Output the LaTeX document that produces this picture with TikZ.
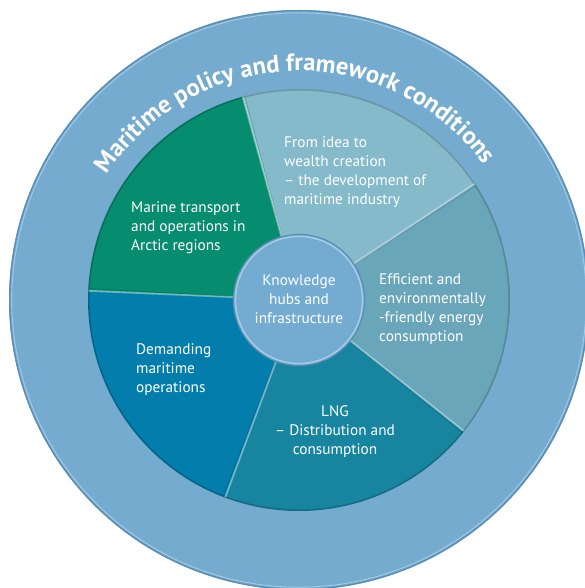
\documentclass[tikz,border=0pt]{standalone}
\usepackage{fontspec}
\setmainfont{PT Sans}
\usetikzlibrary{decorations.text}
\definecolor{ringc}{HTML}{75ABCF}
\definecolor{ringdark}{HTML}{5A8DB3}
\definecolor{ringlight}{HTML}{A3CBE6}
\definecolor{secidea}{HTML}{84BACA}
\definecolor{secmarine}{HTML}{068C6F}
\definecolor{secdemand}{HTML}{037DAB}
\definecolor{seclng}{HTML}{1785A0}
\definecolor{seceff}{HTML}{6AA6BA}
\definecolor{hubc}{HTML}{74ABD0}
\tikzset{
  lbl/.style={inner sep=0pt, text=white, font=\fontsize{15.3}{19.2}\selectfont},
  sepline/.style={draw=white, draw opacity=0.4, line width=1.8pt},
}
\begin{document}
\begin{tikzpicture}[x=1pt,y=1pt]
\useasboundingbox (0,0) rectangle (585,588);
\clip (0,0) rectangle (585,588);
\coordinate (C) at (299,288);
% outer ring
\fill[ringc] (C) circle[radius=290];
\draw[ringdark, line width=1.3pt] (C) circle[radius=289.3];
\draw[ringlight, line width=0.9pt] (C) circle[radius=287.2];
% sectors
\fill[secidea] (C) -- ++(33.5:211) arc[start angle=33.5, end angle=105.5, radius=211] -- cycle;
\fill[secmarine] (C) -- ++(105.5:211) arc[start angle=105.5, end angle=177.5, radius=211] -- cycle;
\fill[secdemand] (C) -- ++(177.5:211) arc[start angle=177.5, end angle=249.5, radius=211] -- cycle;
\fill[seclng] (C) -- ++(249.5:211) arc[start angle=249.5, end angle=321.5, radius=211] -- cycle;
\fill[seceff] (C) -- ++(-38.5:211) arc[start angle=-38.5, end angle=33.5, radius=211] -- cycle;
% bevel edges
\draw[black, opacity=0.18, line width=1.6pt] (C) circle[radius=210.2];
\foreach \a in {33.5,105.5,177.5,249.5,321.5}{
  \draw[black, opacity=0.15, line width=0.8pt] (C) ++(\a-0.6:60) -- ++(\a-0.6:150.5);
  \draw[sepline] (C) ++(\a:60) -- ++(\a:150.5);
}
% curved title
\path[decorate, decoration={text along path, text align=center, text color=white,
  text={|\bfseries\fontsize{24.6}{24.6}\selectfont|Maritime policy and framework conditions}}]
  (C) ++(152:229) arc[start angle=152, end angle=31, radius=229];
% hub
\node[circle, minimum size=131pt, inner sep=0pt, fill=hubc, draw=ringdark, line width=1.2pt] (hub) at (C) {};
\draw[ringlight, line width=1.6pt] (C) circle[radius=63.6];
\node[lbl, align=center] (hubtxt) at ([yshift=1pt]C) {Knowledge\\hubs and\\infrastructure};
% sector labels (base anchor = last line baseline)
\node[lbl, align=left, anchor=base west] (marine) at (131,337) {Marine transport\\and operations in\\Arctic regions};
\node[lbl, align=left, anchor=base west] (idea) at (284,383) {From idea to\\wealth creation\\– the development of\\maritime industry};
\node[lbl, align=left, anchor=base west] (eff) at (379,246) {Efficient and\\environmentally\\-friendly energy\\consumption};
\node[lbl, align=center, anchor=base] (lng) at (335,133) {LNG\\– Distribution and\\consumption};
\node[lbl, align=left, anchor=base west] (demand) at (136,195) {Demanding\\maritime\\operations};
\end{tikzpicture}
\end{document}
